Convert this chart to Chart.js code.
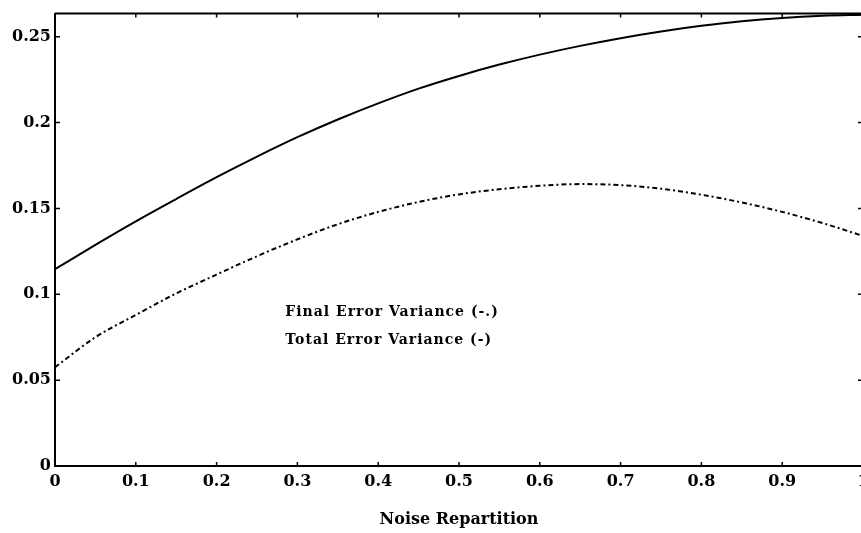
<!DOCTYPE html>
<html>
<head>
<meta charset="utf-8">
<title>Noise Repartition</title>
<script src="https://cdn.jsdelivr.net/npm/chart.js@4.4.1/dist/chart.umd.min.js"></script>
<style>
    html, body { margin: 0; padding: 0; background: #fff; overflow: hidden; }
    #wrap { position: relative; width: 880px; height: 533px; }
</style>
</head>
<body>
<div id="wrap"><canvas id="chart"></canvas></div>
<script>
// valeurs
const noiseRepartition = [0, 0.05, 0.1, 0.15, 0.2, 0.25, 0.3, 0.35, 0.4, 0.45, 0.5,
    0.55, 0.6, 0.65, 0.7, 0.75, 0.8, 0.85, 0.9, 0.95, 1];
const totalErrorVariance = [0.1146, 0.1288, 0.1425, 0.1555, 0.1682, 0.1802, 0.1915, 0.2018, 0.2112, 0.2198, 0.2272,
    0.2338, 0.2396, 0.2447, 0.2492, 0.2531, 0.2564, 0.2591, 0.2610, 0.2622, 0.2628];
const finalErrorVariance = [0.0575, 0.075, 0.088, 0.1005, 0.1115, 0.1222, 0.132, 0.1408, 0.148, 0.1538, 0.1582,
    0.1612, 0.1632, 0.1642, 0.1636, 0.1615, 0.158, 0.1535, 0.148, 0.1415, 0.134];
const xTickValues = [0, 0.1, 0.2, 0.3, 0.4, 0.5, 0.6, 0.7, 0.8, 0.9, 1];
const yTickValues = [0, 0.05, 0.1, 0.15, 0.2, 0.25];
const legendLines = ["Final Error Variance (-.)", "Total Error Variance (-)"];

// position du texte de légende, en coordonnées des axes
const legendX = 0.285;
const legendY = [0.0897, 0.073];

const font = { family: "'DejaVu Serif', serif", weight: "bold", size: 16 };

// cadre, petites graduations vers l'intérieur et texte de légende
const framePlugin = {
    id: "frame",
    afterDraw(chart) {
        const { ctx, chartArea: a, scales: { x, y } } = chart;
        ctx.save();
        ctx.strokeStyle = "#000";
        ctx.lineWidth = 2;
        ctx.beginPath();
        ctx.moveTo(a.left, a.top);
        ctx.lineTo(a.right, a.top);
        ctx.lineTo(a.right, a.bottom);
        ctx.stroke();

        ctx.lineWidth = 1.5;
        ctx.beginPath();
        xTickValues.forEach((v) => {
            const px = x.getPixelForValue(v);
            ctx.moveTo(px, a.bottom);
            ctx.lineTo(px, a.bottom - 4);
            ctx.moveTo(px, a.top);
            ctx.lineTo(px, a.top + 4);
        });
        yTickValues.forEach((v) => {
            const py = y.getPixelForValue(v);
            ctx.moveTo(a.left, py);
            ctx.lineTo(a.left + 5, py);
            ctx.moveTo(a.right, py);
            ctx.lineTo(a.right - 5, py);
        });
        ctx.stroke();

        ctx.fillStyle = "#000";
        ctx.font = "bold 14px 'DejaVu Serif', serif";
        ctx.letterSpacing = "1px";
        ctx.textBaseline = "middle";
        ctx.textAlign = "left";
        legendLines.forEach((text, i) => {
            ctx.fillText(text, x.getPixelForValue(legendX), y.getPixelForValue(legendY[i]));
        });
        ctx.restore();
    },
};

const ctx = document.getElementById("chart").getContext("2d");

new Chart(ctx, {
    type: "line",
    data: {
        datasets: [
            {
                label: "Total Error Variance (-)",
                data: noiseRepartition.map((v, i) => ({ x: v, y: totalErrorVariance[i] })),
                borderColor: "#000",
                borderWidth: 2,
                pointRadius: 0,
                cubicInterpolationMode: "monotone",
                fill: false,
            },
            {
                label: "Final Error Variance (-.)",
                data: noiseRepartition.map((v, i) => ({ x: v, y: finalErrorVariance[i] })),
                borderColor: "#000",
                borderWidth: 2,
                borderDash: [5, 3, 2, 3],
                pointRadius: 0,
                cubicInterpolationMode: "monotone",
                fill: false,
            },
        ],
    },
    options: {
        responsive: true,
        maintainAspectRatio: false,
        animation: false,
        devicePixelRatio: 1,
        layout: { padding: { top: 6, right: 17, left: 0, bottom: 0 } },
        plugins: {
            legend: { display: false },
            tooltip: { enabled: false },
        },
        scales: {
            x: {
                type: "linear",
                min: 0,
                max: 1,
                afterBuildTicks: (scale) => {
                    scale.ticks = xTickValues.map((v) => ({ value: v }));
                },
                afterFit: (scale) => {
                    scale.height = 67;
                },
                ticks: {
                    color: "#000",
                    font: font,
                    padding: 6,
                    maxRotation: 0,
                    callback: (v) => String(v),
                },
                grid: { display: true, drawOnChartArea: false, drawTicks: false },
                border: { display: true, color: "#000", width: 2 },
                title: {
                    display: true,
                    text: "Noise Repartition",
                    color: "#000",
                    font: { family: "'DejaVu Serif', serif", weight: "bold", size: 16 },
                    padding: { top: 0, bottom: 4 },
                },
            },
            y: {
                type: "linear",
                min: 0,
                max: 0.2635,
                afterBuildTicks: (scale) => {
                    scale.ticks = yTickValues.map((v) => ({ value: v }));
                },
                afterFit: (scale) => {
                    scale.width = 55;
                },
                ticks: {
                    color: "#000",
                    font: font,
                    padding: 4,
                    callback: (v) => Number(v.toFixed(2)).toString(),
                },
                grid: { display: true, drawOnChartArea: false, drawTicks: false },
                border: { display: true, color: "#000", width: 2 },
            },
        },
    },
    plugins: [framePlugin],
});
</script>
</body>
</html>
